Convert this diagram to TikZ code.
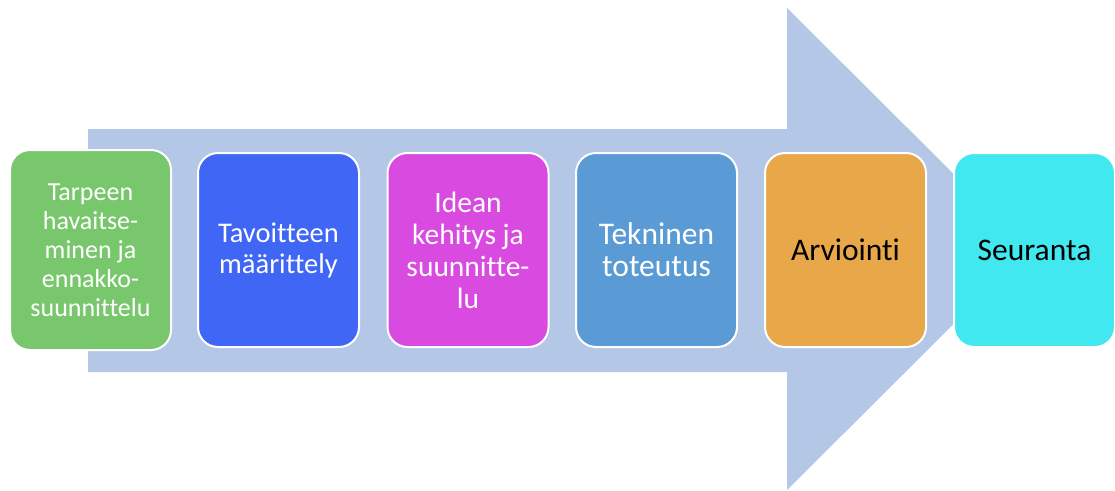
\documentclass[tikz,border=0pt]{standalone}
\usepackage{fontspec}
\setmainfont{Carlito}[Ligatures={NoCommon}]
\definecolor{arrowc}{HTML}{B4C7E7}
\definecolor{c1}{HTML}{78C76C}
\definecolor{c2}{HTML}{3F66F5}
\definecolor{c3}{HTML}{D94BE0}
\definecolor{c4}{HTML}{5B9BD5}
\definecolor{c5}{HTML}{E8A84A}
\definecolor{c6}{HTML}{41E8F0}
\tikzset{
  stage/.style={draw=white, line width=2pt, rounded corners=20pt, minimum width=161pt, minimum height=194pt,
    align=center, inner sep=0pt, text=white},
  darktext/.style={text=black}
}
\begin{document}
\begin{tikzpicture}[x=1pt,y=-1pt]
\useasboundingbox (0,0) rectangle (1115,490);
\fill[arrowc] (88,129) -- (787,129) -- (787,8) -- (1029,249) -- (787,490) -- (787,372) -- (88,372) -- cycle;
\node[stage, fill=c1, minimum width=161pt, minimum height=200pt, font=\fontsize{26pt}{29pt}\selectfont] (s1) at (90.5,250) {Tarpeen\\havaitse-\\minen ja\\ennakko-\\suunnittelu};
\node[stage, fill=c2, font=\fontsize{28.5pt}{31pt}\selectfont] (s2) at (278.5,250) {Tavoitteen\\määrittely};
\node[stage, fill=c3, font=\fontsize{29.5pt}{32pt}\selectfont] (s3) at (468,250) {Idean\\kehitys ja\\suunnitte-\\lu};
\node[stage, fill=c4, font=\fontsize{31.5pt}{32pt}\selectfont] (s4) at (656.5,250) {Tekninen\\toteutus};
\node[stage, fill=c5, darktext, font=\fontsize{31.5pt}{32pt}\selectfont] (s5) at (845.5,250) {Arviointi};
\node[stage, fill=c6, darktext, font=\fontsize{31.5pt}{32pt}\selectfont] (s6) at (1034.5,250) {Seuranta};
\end{tikzpicture}
\end{document}
